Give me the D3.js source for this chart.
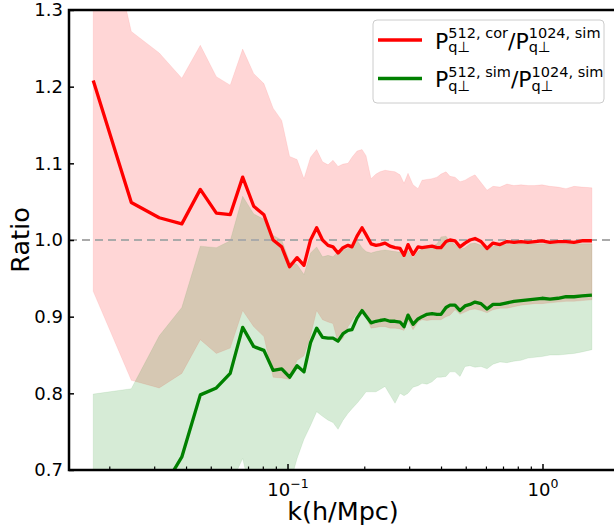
<!DOCTYPE html>
<html>
<head>
<meta charset="utf-8">
<script src="https://cdn.jsdelivr.net/npm/d3@7"></script>
<style>
body { margin: 0; background: #fff; }
svg { display: block; font-family: "DejaVu Sans", sans-serif; }
</style>
</head>
<body>
<svg width="614" height="525"></svg>
<script>
// k bins (h/Mpc)
const kVals = [0.0173, 0.0244, 0.0314, 0.0385, 0.0455, 0.0526, 0.0596, 0.0667, 0.0737, 0.0808, 0.0878, 0.0949, 0.1019, 0.1090, 0.1160, 0.1231, 0.1301, 0.1372,
  0.1442, 0.1508, 0.1578, 0.1651, 0.1727, 0.1790, 0.1873, 0.1960, 0.2032, 0.2126, 0.2224, 0.2305, 0.2412, 0.2523, 0.2640, 0.2762, 0.2864, 0.2969, 0.3106, 0.3249,
  0.3369, 0.3524, 0.3687, 0.3857, 0.3999, 0.4184, 0.4338, 0.4538, 0.4748, 0.4967, 0.5196, 0.5436, 0.5739, 0.6059, 0.6396, 0.6813, 0.7258, 0.7731, 0.8235, 0.8772,
  0.9345, 0.9954, 1.0701, 1.1502, 1.2363, 1.3290, 1.4285, 1.5625]

// P512,cor / P1024,sim  (mean, lower, upper)
const ratioCor = [1.208, 1.049, 1.029, 1.021, 1.066, 1.035, 1.033, 1.082, 1.044, 1.033, 1.000, 0.991, 0.965, 0.977, 0.967, 1.000, 1.016, 1.000,
  0.993, 0.991, 0.983, 0.990, 0.993, 0.991, 1.005, 1.016, 1.007, 0.995, 0.993, 0.994, 0.996, 0.992, 0.990, 0.989, 0.980, 0.994, 0.981, 0.991,
  0.990, 0.991, 0.992, 0.990, 0.990, 0.998, 1.000, 0.999, 0.991, 0.996, 1.000, 1.002, 0.998, 0.989, 0.996, 0.994, 0.998, 0.997, 0.998, 0.997,
  0.998, 0.999, 0.997, 0.998, 0.998, 0.997, 0.999, 0.999]
const corLow = [0.933, 0.817, 0.807, 0.826, 0.870, 0.852, 0.859, 0.908, 0.887, 0.874, 0.821, 0.820, 0.818, 0.843, 0.849, 0.875, 0.908, 0.896,
  0.893, 0.891, 0.866, 0.872, 0.887, 0.895, 0.904, 0.904, 0.900, 0.885, 0.886, 0.887, 0.887, 0.885, 0.885, 0.884, 0.882, 0.895, 0.883, 0.893,
  0.896, 0.895, 0.896, 0.896, 0.896, 0.900, 0.902, 0.909, 0.903, 0.906, 0.909, 0.910, 0.908, 0.905, 0.909, 0.911, 0.911, 0.913, 0.915, 0.916,
  0.917, 0.917, 0.918, 0.919, 0.920, 0.920, 0.921, 0.922]
const corHigh = [1.49, 1.272, 1.244, 1.211, 1.254, 1.213, 1.202, 1.249, 1.217, 1.204, 1.172, 1.156, 1.109, 1.105, 1.080, 1.108, 1.118, 1.102,
  1.098, 1.104, 1.096, 1.099, 1.100, 1.108, 1.116, 1.118, 1.110, 1.080, 1.086, 1.089, 1.091, 1.090, 1.089, 1.085, 1.074, 1.087, 1.072, 1.067,
  1.078, 1.079, 1.080, 1.082, 1.086, 1.089, 1.083, 1.082, 1.076, 1.078, 1.082, 1.085, 1.075, 1.065, 1.070, 1.069, 1.073, 1.071, 1.072, 1.071,
  1.071, 1.072, 1.070, 1.069, 1.067, 1.070, 1.069, 1.068]

// P512,sim / P1024,sim  (mean, lower, upper)
const ratioSim = [0.58, 0.62, 0.668, 0.717, 0.798, 0.807, 0.826, 0.886, 0.861, 0.856, 0.830, 0.832, 0.821, 0.836, 0.828, 0.866, 0.885, 0.873,
  0.872, 0.872, 0.868, 0.878, 0.882, 0.883, 0.898, 0.908, 0.901, 0.892, 0.894, 0.895, 0.896, 0.894, 0.894, 0.893, 0.887, 0.902, 0.890, 0.897,
  0.900, 0.903, 0.904, 0.903, 0.903, 0.912, 0.915, 0.915, 0.908, 0.914, 0.916, 0.919, 0.917, 0.910, 0.916, 0.916, 0.918, 0.920, 0.921, 0.922,
  0.923, 0.924, 0.923, 0.924, 0.926, 0.926, 0.927, 0.928]
const simLow = [0.60, 0.61, 0.62, 0.63, 0.64, 0.66, 0.68, 0.715, 0.652, 0.64, 0.64, 0.65, 0.68, 0.715, 0.74, 0.758, 0.776, 0.770,
  0.765, 0.762, 0.753, 0.765, 0.774, 0.780, 0.787, 0.795, 0.802, 0.802, 0.802, 0.805, 0.809, 0.798, 0.787, 0.800, 0.797, 0.800, 0.808, 0.810,
  0.813, 0.812, 0.815, 0.821, 0.821, 0.822, 0.828, 0.828, 0.822, 0.835, 0.836, 0.834, 0.835, 0.832, 0.838, 0.841, 0.840, 0.842, 0.843, 0.846,
  0.847, 0.848, 0.850, 0.850, 0.851, 0.852, 0.854, 0.857]
const simHigh = [0.799, 0.806, 0.875, 0.912, 0.992, 0.990, 0.999, 1.057, 1.034, 1.027, 1.006, 1.000, 0.972, 0.968, 0.955, 0.983, 0.991, 0.978,
  0.980, 0.978, 0.985, 0.987, 0.989, 0.989, 1.000, 0.990, 0.985, 0.983, 0.985, 0.986, 0.987, 0.986, 0.985, 0.984, 0.978, 0.986, 0.976, 0.985,
  0.989, 0.990, 0.992, 0.995, 1.004, 1.005, 0.998, 0.994, 0.988, 0.990, 0.995, 0.996, 0.993, 0.987, 0.992, 0.993, 0.994, 0.994, 0.995, 0.995,
  0.995, 0.995, 0.995, 0.995, 0.995, 0.995, 0.995, 0.995]

const yTicks = [0.7, 0.8, 0.9, 1.0, 1.1, 1.2, 1.3]
const xMajor = [0.1, 1]
const xExps = ['\u22121', '0']
const xMinor = [0.02, 0.03, 0.04, 0.05, 0.06, 0.07, 0.08, 0.09, 0.2, 0.3, 0.4, 0.5, 0.6, 0.7, 0.8, 0.9]
const legendLabels = [
  [{ base: 'P', sup: '512, cor', sub: 'q\u22a5' }, { base: '/' }, { base: 'P', sup: '1024, sim', sub: 'q\u22a5' }],
  [{ base: 'P', sup: '512, sim', sub: 'q\u22a5' }, { base: '/' }, { base: 'P', sup: '1024, sim', sub: 'q\u22a5' }]
]
const legendColors = ['#ff0000', '#008000']

const svg = d3.select('svg')
const margin = { top: 10, left: 69 }
const innerW = 548
const innerH = 460

const xScale = d3.scaleLog().domain([0.013900, 1.9597]).range([0, innerW])
const yScale = d3.scaleLinear().domain([0.7, 1.3]).range([innerH, 0])

const g = svg.append('g').attr('transform', `translate(${margin.left},${margin.top})`)

g.append('clipPath').attr('id', 'plot-clip')
  .append('rect').attr('width', innerW).attr('height', innerH)

const plot = g.append('g').attr('clip-path', 'url(#plot-clip)')

const rows = kVals.map((k, i) => ({
  k, cor: ratioCor[i], corLo: corLow[i], corHi: corHigh[i],
  sim: ratioSim[i], simLo: simLow[i], simHi: simHigh[i]
}))

const band = (lo, hi) => d3.area()
  .x(d => xScale(d.k))
  .y0(d => yScale(d[lo]))
  .y1(d => yScale(d[hi]))

// shaded bands
plot.append('path').datum(rows)
  .attr('d', band('corLo', 'corHi'))
  .attr('fill', '#ff0000').attr('fill-opacity', 0.16)
  .attr('stroke', '#ff0000').attr('stroke-opacity', 0.08).attr('stroke-width', 1)
plot.append('path').datum(rows)
  .attr('d', band('simLo', 'simHi'))
  .attr('fill', '#008000').attr('fill-opacity', 0.16)
  .attr('stroke', '#008000').attr('stroke-opacity', 0.08).attr('stroke-width', 1)

// reference line at 1
plot.append('line')
  .attr('x1', 0).attr('x2', innerW)
  .attr('y1', yScale(1)).attr('y2', yScale(1))
  .attr('stroke', '#aaaaaa').attr('stroke-width', 2)
  .attr('stroke-dasharray', '8,5')

const line = key => d3.line().x(d => xScale(d.k)).y(d => yScale(d[key]))

plot.append('path').datum(rows)
  .attr('d', line('cor'))
  .attr('fill', 'none').attr('stroke', '#ff0000').attr('stroke-width', 3.3)
  .attr('stroke-linejoin', 'round')
plot.append('path').datum(rows)
  .attr('d', line('sim'))
  .attr('fill', 'none').attr('stroke', '#008000').attr('stroke-width', 3.3)
  .attr('stroke-linejoin', 'round')

// axes, ticks pointing inwards
const yAxisG = g.append('g')
  .call(d3.axisLeft(yScale).tickValues(yTicks).tickSize(-5).tickPadding(6).tickFormat(d3.format('.1f')))
yAxisG.select('.domain').remove()
yAxisG.selectAll('.tick line').attr('stroke', '#000').attr('stroke-width', 1.5)
yAxisG.selectAll('.tick text').attr('font-size', 18).attr('fill', '#000')
  .attr('font-family', '"DejaVu Sans", sans-serif')

const xMinorG = g.append('g').attr('transform', `translate(0,${innerH})`)
  .call(d3.axisBottom(xScale).tickValues(xMinor).tickSize(-3.5).tickFormat(''))
xMinorG.select('.domain').remove()
xMinorG.selectAll('.tick line').attr('stroke', '#000').attr('stroke-width', 1.2)

const xAxisG = g.append('g').attr('transform', `translate(0,${innerH})`)
  .call(d3.axisBottom(xScale).tickValues(xMajor).tickSize(-6).tickPadding(13))
xAxisG.select('.domain').remove()
xAxisG.selectAll('.tick line').attr('stroke', '#000').attr('stroke-width', 1.5)
xAxisG.selectAll('.tick text').each(function (d, i) {
  const t = d3.select(this).text(null)
    .attr('font-size', 18).attr('fill', '#000')
    .attr('font-family', '"DejaVu Sans", sans-serif')
  t.append('tspan').text('10')
  t.append('tspan').attr('dy', -7.5).attr('font-size', 12.5).text(xExps[i])
})

// frame (right spine falls outside the picture)
g.append('rect')
  .attr('width', innerW).attr('height', innerH)
  .attr('fill', 'none').attr('stroke', '#000').attr('stroke-width', 2.5)

// axis titles
svg.append('text')
  .attr('x', margin.left + innerW / 2).attr('y', 520)
  .attr('text-anchor', 'middle').attr('font-size', 25.5)
  .text('k(h/Mpc)')
svg.append('text')
  .attr('transform', `translate(29,${margin.top + innerH / 2}) rotate(-90)`)
  .attr('text-anchor', 'middle').attr('font-size', 25.5)
  .text('Ratio')

// legend
const legend = svg.append('g')
legend.append('rect')
  .attr('x', 373).attr('y', 20).attr('width', 231).attr('height', 83).attr('rx', 4)
  .attr('fill', '#fff').attr('fill-opacity', 0.8)
  .attr('stroke', '#cccccc').attr('stroke-width', 1)

const measure = (str, size) => {
  const t = legend.append('text').attr('font-size', size).text(str)
  const w = t.node().getComputedTextLength()
  t.remove()
  return w
}

// one text element per entry, superscript and subscript stacked like mathtext
const mathLabel = (x, y, parts) => {
  const text = legend.append('text').attr('font-size', 22)
  let cx = x
  parts.forEach(p => {
    text.append('tspan').attr('x', cx).attr('y', y).text(p.base)
    cx += measure(p.base, 22)
    if (p.sup) {
      text.append('tspan').attr('x', cx).attr('y', y - 10.5).attr('font-size', 14.5).text(p.sup)
      text.append('tspan').attr('x', cx).attr('y', y + 3.5).attr('font-size', 14.5).text(p.sub)
      cx += Math.max(measure(p.sup, 14.5), measure(p.sub, 14.5))
    }
  })
}

legendLabels.forEach((parts, i) => {
  const ly = 40 + i * 38.5
  legend.append('line')
    .attr('x1', 378).attr('x2', 422).attr('y1', ly).attr('y2', ly)
    .attr('stroke', legendColors[i]).attr('stroke-width', 3.3)
  mathLabel(435, ly + 8.5, parts)
})
</script>
</body>
</html>
